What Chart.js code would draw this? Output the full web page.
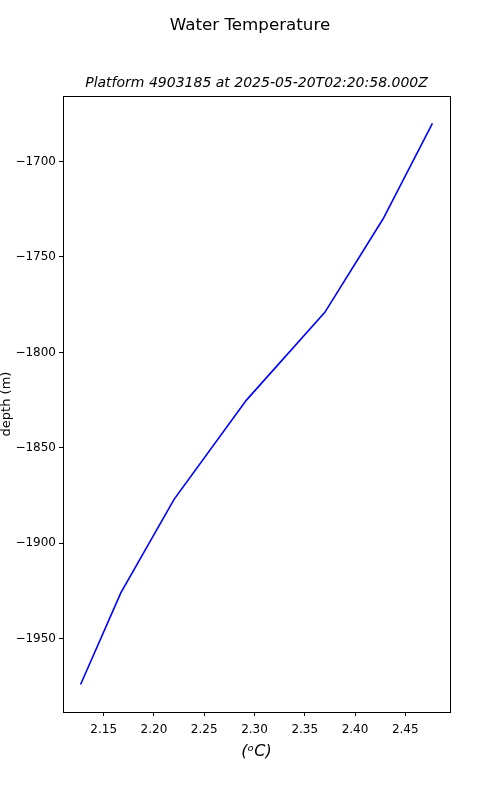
<!DOCTYPE html>
<html>
<head>
<meta charset="utf-8">
<script src="https://cdn.jsdelivr.net/npm/chart.js@4"></script>
<style>
  html, body { margin: 0; padding: 0; background: #fff; }
  #wrap { width: 500px; height: 800px; }
</style>
</head>
<body>
<div id="wrap"><canvas id="chart-profile" width="500" height="800"></canvas></div>
<script>
// profile values
var temperature = [2.127, 2.167, 2.220, 2.292, 2.370, 2.428, 2.477];
var depth = [-1974, -1926, -1877, -1825, -1779, -1730, -1680];

var xTicks = [2.15, 2.20, 2.25, 2.30, 2.35, 2.40, 2.45];
var yTicks = [-1950, -1900, -1850, -1800, -1750, -1700];

var points = temperature.map(function (t, i) { return { x: t, y: depth[i] }; });

var font = 'DejaVu Sans';
Chart.defaults.color = '#000';
Chart.defaults.font.family = font;

// white background + box around the plot area
var framePlugin = {
    id: 'frame',
    beforeDraw: function (chart) {
        var ctx = chart.ctx;
        ctx.save();
        ctx.fillStyle = '#fff';
        ctx.fillRect(0, 0, chart.width, chart.height);
        ctx.restore();
    },
    afterDraw: function (chart) {
        var a = chart.chartArea, ctx = chart.ctx;
        ctx.save();
        ctx.strokeStyle = '#000';
        ctx.lineWidth = 1;
        ctx.strokeRect(Math.round(a.left) + 0.5, Math.round(a.top) + 0.5,
            Math.round(a.right - a.left), Math.round(a.bottom - a.top));
        ctx.restore();
    }
};

var hidden = {
    grid: { display: false },
    border: { display: false },
    ticks: { display: false }
};

var config = {
    type: 'scatter',
    data: {
        datasets: [{
            data: points,
            showLine: true,
            fill: false,
            borderColor: '#0000ff',
            backgroundColor: '#0000ff',
            borderWidth: 1.6,
            pointRadius: 0,
            tension: 0
        }]
    },
    options: {
        responsive: false,
        animation: false,
        layout: { padding: 0 },
        plugins: {
            legend: { display: false },
            tooltip: { enabled: false },
            title: {
                display: true,
                text: 'Water Temperature',
                font: { size: 16.7, weight: 'normal' },
                padding: { top: 16, bottom: 0 }
            }
        },
        scales: {
            x: {
                type: 'linear',
                min: 2.1095,
                max: 2.4945,
                afterFit: function (scale) { scale.height = 88; },
                afterBuildTicks: function (scale) {
                    scale.ticks = xTicks.map(function (v) { return { value: v }; });
                },
                grid: { drawOnChartArea: false, color: '#000', tickLength: 4 },
                border: { display: false },
                ticks: {
                    autoSkip: false,
                    maxRotation: 0,
                    padding: 7,
                    font: { size: 12 },
                    callback: function (v) { return v.toFixed(2); }
                },
                title: {
                    display: true,
                    text: '(\u1D52C)',
                    font: { size: 16, style: 'italic' },
                    padding: { top: 0, bottom: 38.4 }
                }
            },
            // top axis only carries the axes title
            x2: Object.assign({
                type: 'linear',
                position: 'top',
                min: 2.1095,
                max: 2.4945,
                afterFit: function (scale) { scale.height = 60; },
                title: {
                    display: true,
                    text: 'Platform 4903185 at 2025-05-20T02:20:58.000Z',
                    font: { size: 14, style: 'italic' },
                    padding: { top: 38.6, bottom: 0 }
                }
            }, hidden),
            y: {
                type: 'linear',
                min: -1988.4,
                max: -1665.7,
                afterFit: function (scale) { scale.width = 63; },
                afterBuildTicks: function (scale) {
                    scale.ticks = yTicks.map(function (v) { return { value: v }; });
                },
                grid: { drawOnChartArea: false, color: '#000', tickLength: 4 },
                border: { display: false },
                ticks: {
                    autoSkip: false,
                    padding: 3,
                    font: { size: 12 },
                    callback: function (v) { return String(v).replace('-', '\u2212'); }
                },
                title: {
                    display: true,
                    text: 'depth (m)',
                    font: { size: 13, lineHeight: 1 },
                    padding: { top: 0, bottom: 0 }
                }
            },
            // empty right axis keeps the right margin
            y2: Object.assign({
                type: 'linear',
                position: 'right',
                min: 0,
                max: 1,
                afterFit: function (scale) { scale.width = 50; }
            }, hidden)
        }
    },
    plugins: [framePlugin]
};

var ctx = document.getElementById('chart-profile').getContext('2d');
new Chart(ctx, config);
</script>
</body>
</html>
